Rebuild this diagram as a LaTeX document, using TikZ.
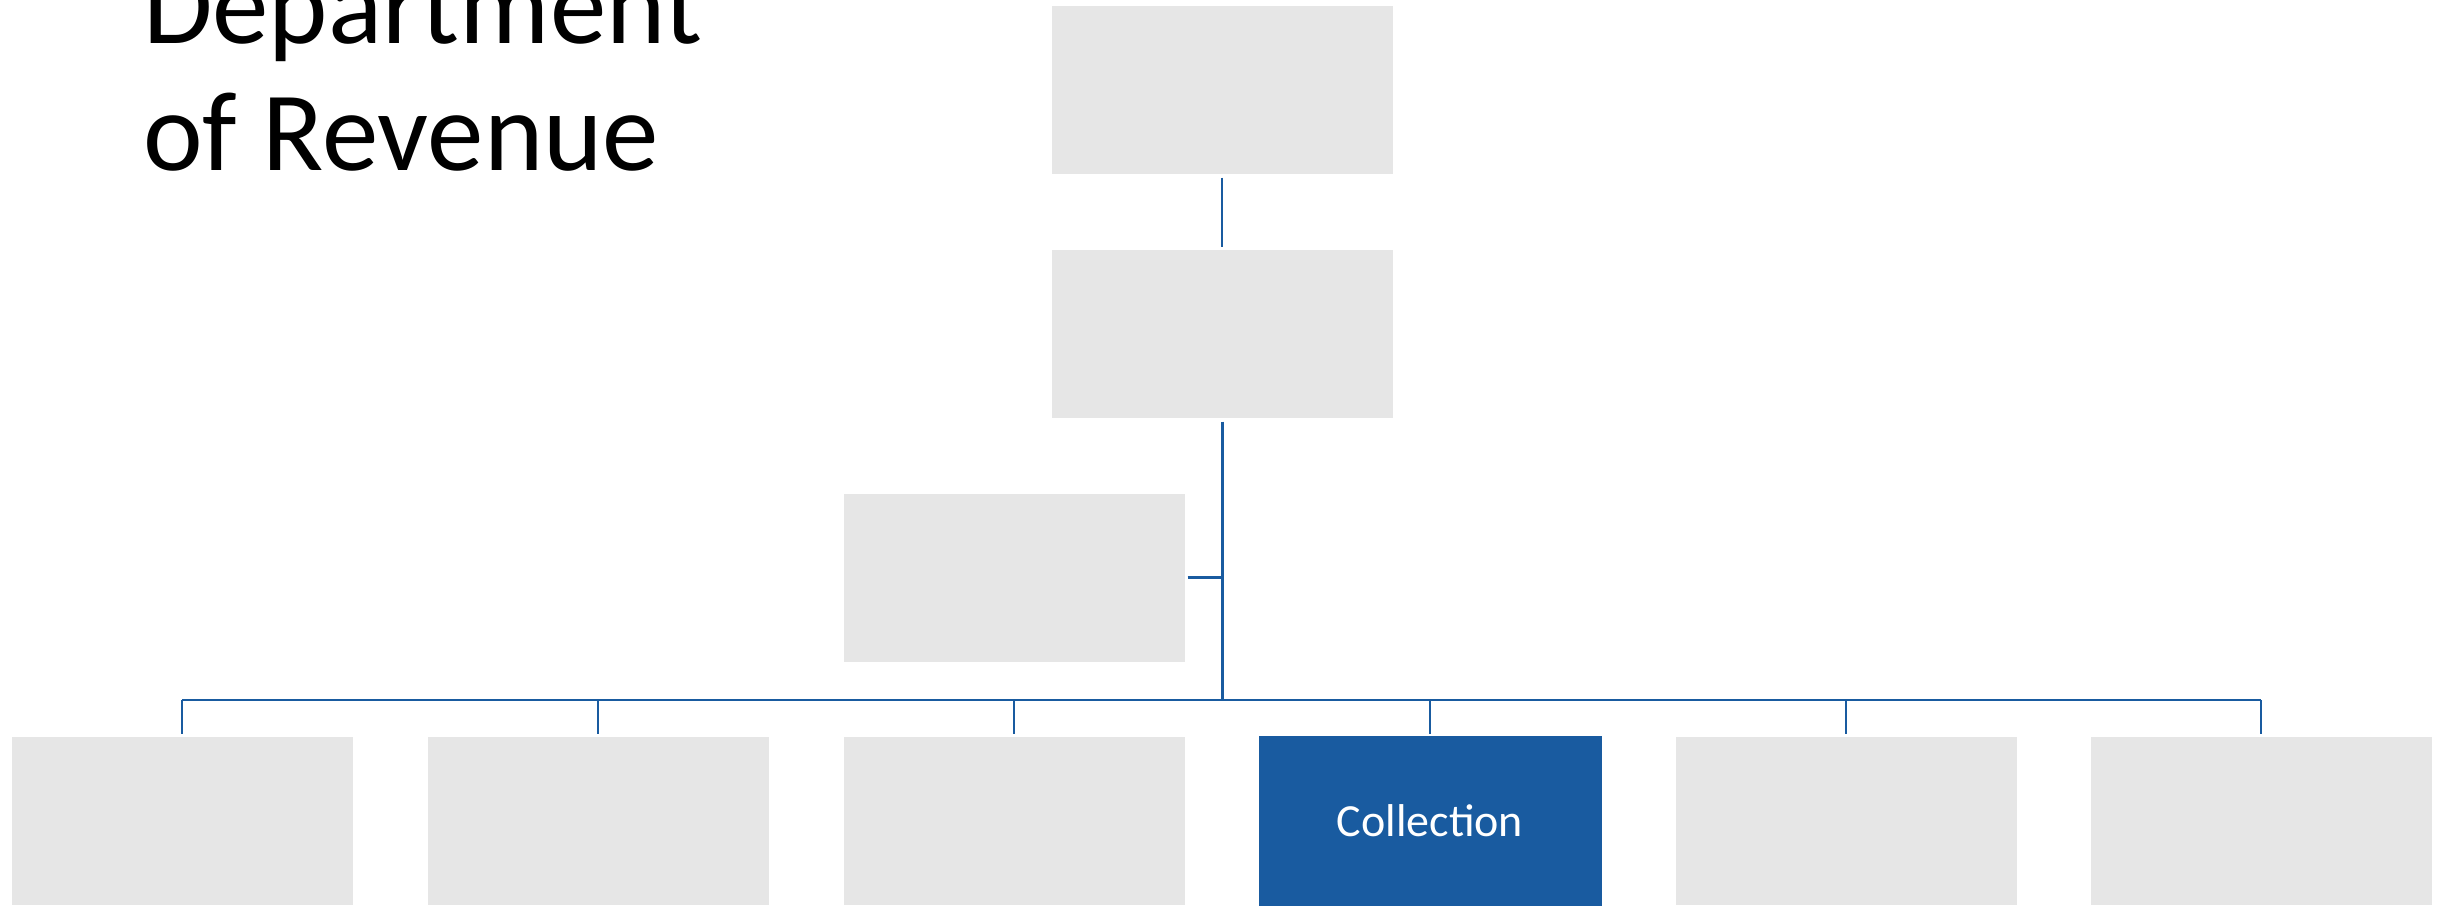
\documentclass[tikz,border=0pt]{standalone}
\usepackage{fontspec}
\setmainfont{Carlito}
\definecolor{boxgray}{HTML}{E6E6E6}
\definecolor{orgblue}{HTML}{195BA0}
\begin{document}
\begin{tikzpicture}[x=1pt,y=-1pt,
  orgbox/.style={fill=boxgray,draw=white,line width=1pt,minimum width=342pt,minimum height=169pt,inner sep=0pt,anchor=center},
  selbox/.style={orgbox,fill=orgblue,draw=orgblue,text=white,font=\fontsize{46}{50}\selectfont},
  link/.style={draw=orgblue,line width=2.2pt},
  trunk/.style={draw=orgblue,line width=3pt}]
\useasboundingbox[fill=white] (0,0) rectangle (2445,906);
\node[anchor=base west,inner sep=0pt,font=\fontsize{113}{127}\selectfont] (title1) at (143,43) {Department};
\node[anchor=base west,inner sep=0pt,font=\fontsize{113}{127}\selectfont] (title2) at (143,170) {of Revenue};
\node[orgbox] (top) at (1222,89.5) {};
\node[orgbox] (mid) at (1222,333.5) {};
\node[orgbox] (asst) at (1014,577.5) {};
\node[orgbox] (d1) at (182,820.5) {};
\node[orgbox] (d2) at (598,820.5) {};
\node[orgbox] (d3) at (1014,820.5) {};
\node[selbox] (d4) at (1430,820.5) {Collection};
\node[orgbox] (d5) at (1846,820.5) {};
\node[orgbox] (d6) at (2261,820.5) {};
\coordinate (junc) at (1222,700);
\draw[link,shorten <=3pt,shorten >=2pt] (top.south) -- (mid.north);
\draw[trunk,shorten <=3pt] (mid.south) -- (junc);
\draw[link,shorten <=2pt] (asst.east) -- (asst.east -| junc);
\draw[link] (d1.north |- junc) -- (d6.north |- junc);
\foreach \n in {d1,d2,d3,d4,d5,d6}{
  \draw[link,shorten >=2pt] (\n.north |- junc) -- (\n.north);
}
\end{tikzpicture}
\end{document}
